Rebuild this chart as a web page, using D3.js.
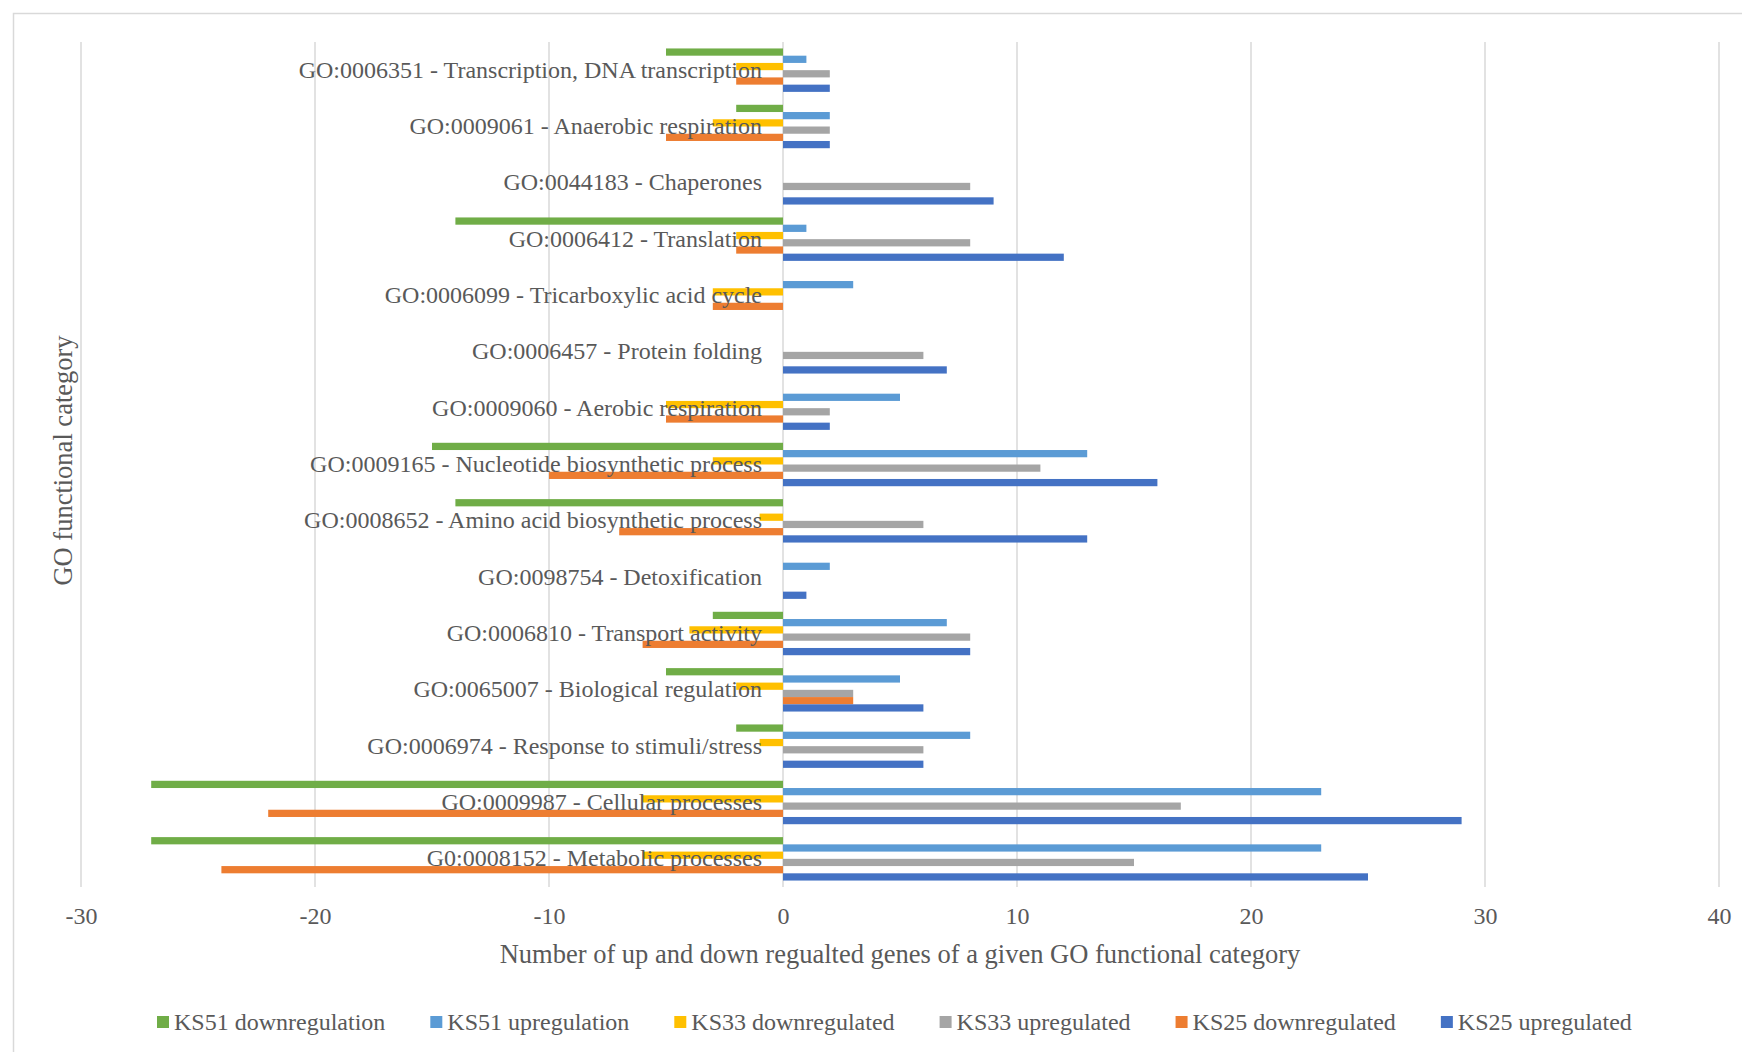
<!DOCTYPE html>
<html>
<head>
<meta charset="utf-8">
<script src="https://cdn.jsdelivr.net/npm/d3@7"></script>
<style>
  html, body { margin: 0; padding: 0; background: #fff; }
  svg { display: block; }
  text { font-family: "Liberation Serif", "Times New Roman", serif; fill: #595959; }
</style>
</head>
<body>
<svg id="chart" width="1742" height="1052"></svg>
<script>
// GO categories, listed top to bottom
const categories = [
  "GO:0006351 - Transcription, DNA transcription",
  "GO:0009061 - Anaerobic respiration",
  "GO:0044183 - Chaperones",
  "GO:0006412 - Translation",
  "GO:0006099 - Tricarboxylic acid cycle",
  "GO:0006457 - Protein folding",
  "GO:0009060 - Aerobic respiration",
  "GO:0009165 - Nucleotide biosynthetic process",
  "GO:0008652 - Amino acid biosynthetic process",
  "GO:0098754 - Detoxification",
  "GO:0006810 - Transport activity",
  "GO:0065007 - Biological regulation",
  "GO:0006974 - Response to stimuli/stress",
  "GO:0009987 - Cellular processes",
  "G0:0008152 - Metabolic processes"
];

// Series names (bar order inside each group, top to bottom)
const seriesNames = [
  "KS51 downregulation",
  "KS51 upregulation",
  "KS33 downregulated",
  "KS33 upregulated",
  "KS25 downregulated",
  "KS25 upregulated"
];
const seriesColors = ["#70AD47", "#5B9BD5", "#FFC000", "#A5A5A5", "#ED7D31", "#4472C4"];

// Gene counts per category for each series (negative = downregulated)
const ks51Down = [-5, -2, 0, -14, 0, 0, 0, -15, -14, 0, -3, -5, -2, -27, -27];
const ks51Up   = [1, 2, 0, 1, 3, 0, 5, 13, 0, 2, 7, 5, 8, 23, 23];
const ks33Down = [-2, -3, 0, -2, -3, 0, -5, -3, -1, 0, -4, -2, -1, -6, -6];
const ks33Up   = [2, 2, 8, 8, 0, 6, 2, 11, 6, 0, 8, 3, 6, 17, 15];
const ks25Down = [-2, -5, 0, -2, -3, 0, -5, -10, -7, 0, -6, 3, 0, -22, -24];
const ks25Up   = [2, 2, 9, 12, 0, 7, 2, 16, 13, 1, 8, 6, 6, 29, 25];

const seriesValues = [ks51Down, ks51Up, ks33Down, ks33Up, ks25Down, ks25Up];

const xTicks = [-30, -20, -10, 0, 10, 20, 30, 40];
const xTitle = "Number of up and down regualted genes of a given GO functional category";
const yTitle = "GO functional category";

const svg = d3.select("#chart");
const W = 1742, H = 1052;
const plot = { left: 81, right: 1719, top: 42, bottom: 887 };

// chart frame
svg.append("rect")
  .attr("x", 13.5).attr("y", 13.5)
  .attr("width", W + 20).attr("height", H + 20)
  .attr("fill", "#fff").attr("stroke", "#d9d9d9").attr("stroke-width", 1.5);

const x = d3.scaleLinear().domain([-30, 40]).range([plot.left, plot.right]);
const y0 = d3.scaleBand().domain(categories).range([plot.top, plot.bottom])
  .paddingInner(0.229).paddingOuter(0.1145);
const y1 = d3.scaleBand().domain(seriesNames).range([0, y0.bandwidth()]);

// vertical gridlines
svg.append("g")
  .selectAll("line")
  .data(xTicks)
  .join("line")
  .attr("x1", d => x(d)).attr("x2", d => x(d))
  .attr("y1", plot.top).attr("y2", plot.bottom)
  .attr("stroke", "#d9d9d9").attr("stroke-width", 1.5);

// bars
const groups = svg.append("g")
  .selectAll("g")
  .data(categories)
  .join("g")
  .attr("transform", c => `translate(0,${y0(c)})`);

groups.selectAll("rect")
  .data((c, i) => seriesNames.map((s, k) => ({ s, k, v: seriesValues[k][i] })))
  .join("rect")
  .attr("x", d => x(Math.min(0, d.v)))
  .attr("width", d => Math.abs(x(d.v) - x(0)))
  .attr("y", d => y1(d.s))
  .attr("height", y1.bandwidth())
  .attr("fill", d => seriesColors[d.k]);

// category labels (drawn over the bars)
svg.append("g")
  .selectAll("text")
  .data(categories)
  .join("text")
  .attr("x", x(0) - 21)
  .attr("y", c => y0(c) + y0.bandwidth() / 2 + 7.5)
  .attr("text-anchor", "end")
  .attr("font-size", 24)
  .text(c => c);

// x-axis tick labels, plain hyphen for negatives
const xAxis = d3.axisBottom(x).tickValues(xTicks).tickSize(0).tickPadding(0)
  .tickFormat(d => String(d));
const xg = svg.append("g").attr("transform", `translate(0,${plot.bottom})`).call(xAxis);
xg.select(".domain").remove();
xg.selectAll("text")
  .attr("dy", null)
  .attr("y", 37)
  .attr("font-size", 24)
  .attr("font-family", "Liberation Serif, Times New Roman, serif")
  .attr("fill", "#595959");

// axis titles
svg.append("text")
  .attr("x", (plot.left + plot.right) / 2)
  .attr("y", 963)
  .attr("text-anchor", "middle")
  .attr("font-size", 26.5)
  .text(xTitle);

svg.append("text")
  .attr("transform", `translate(72,${(plot.top + plot.bottom) / 2 - 4}) rotate(-90)`)
  .attr("text-anchor", "middle")
  .attr("font-size", 26.5)
  .text(yTitle);

// legend
const legend = svg.append("g");
let lx = 157;
seriesNames.forEach((name, k) => {
  const item = legend.append("g").attr("transform", `translate(${lx},1022)`);
  item.append("rect").attr("x", 0).attr("y", -6).attr("width", 12).attr("height", 12)
    .attr("fill", seriesColors[k]);
  const t = item.append("text").attr("x", 17).attr("y", 8).attr("font-size", 24).text(name);
  lx += 17 + t.node().getComputedTextLength() + 45;
});
</script>
</body>
</html>
